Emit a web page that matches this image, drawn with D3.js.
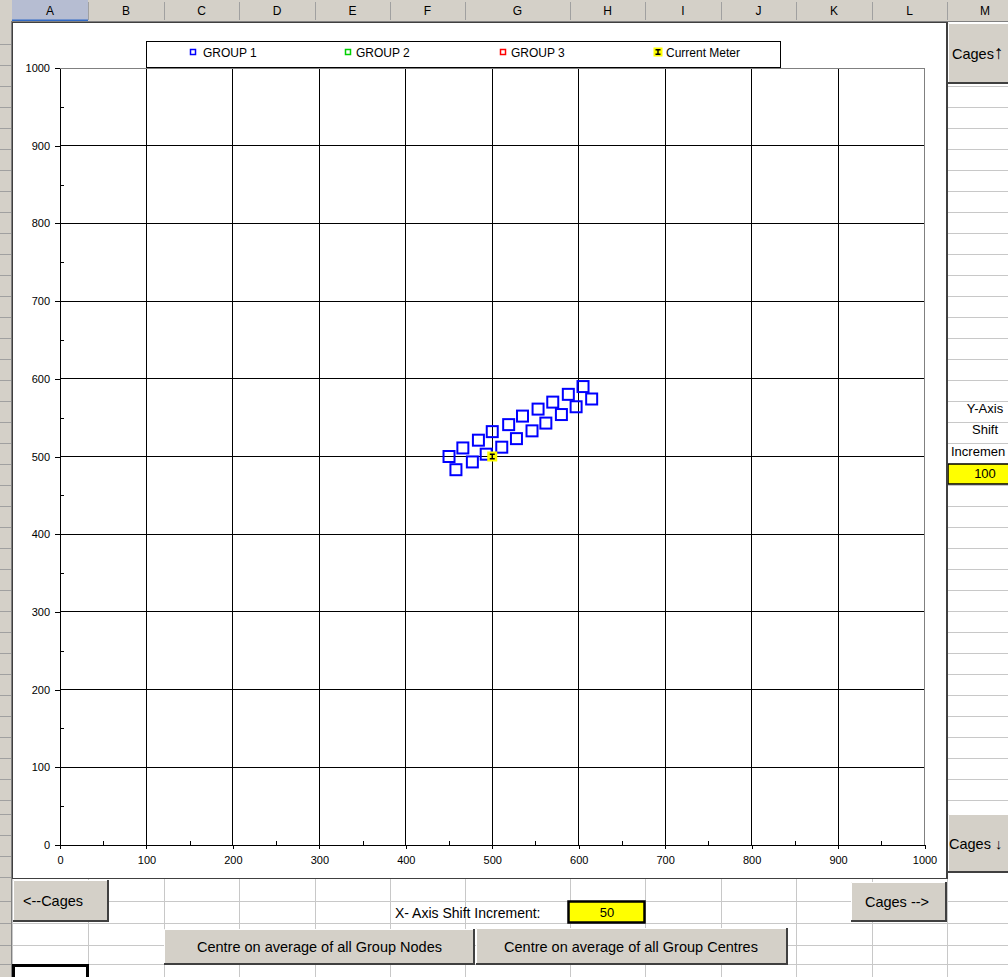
<!DOCTYPE html>
<html lang="en">
<head>
<meta charset="UTF-8">
<title>Cages</title>
<script src="https://d3js.org/d3.v7.min.js"></script>
<style>
    body { margin: 0; background: #fff; }
    svg { display: block; font-family: "Liberation Sans", Arial, sans-serif; }
    .cell { stroke: #c8c8c8; stroke-width: 1px; shape-rendering: crispEdges; }
    .grid line { stroke: #000; stroke-width: 1px; shape-rendering: crispEdges; }
    .axis path, .axis line { stroke: #000; shape-rendering: crispEdges; }
    .axis text { font-size: 11px; fill: #000; }
    .btn text { font-size: 14.5px; fill: #000; }
</style>
</head>
<body>
<svg width="1008" height="977"></svg>
<script>
    // values
    var group1X = [450, 458, 466, 477, 484, 493, 500, 511, 519, 528, 535, 546, 553, 562, 570, 580, 588, 597, 605, 615];
    var group1Y = [500, 483, 511, 493, 521, 503, 532, 512, 541, 523, 552, 533, 561, 543, 570, 554, 580, 564, 590, 574];
    var group2X = [], group2Y = [];
    var group3X = [], group3Y = [];
    var meterX = [500], meterY = [500];
    var majorTicks = d3.range(0, 1001, 100);
    var minorTicks = d3.range(50, 1000, 100);
    var legendNames = ["GROUP 1", "GROUP 2", "GROUP 3", "Current Meter"];
    var legendColors = ["#0000ff", "#00d000", "#ff0000", "#ffff00"];
    var xShift = "50", yShift = "100";

    // spreadsheet furniture
    var columnLetters = ["A", "B", "C", "D", "E", "F", "G", "H", "I", "J", "K", "L", "M"];
    var columnEdges = [12, 88, 164, 239, 315, 390, 465, 570, 645, 721, 796, 872, 947, 1023];
    var upperRows = d3.range(86, 814, 21);
    var lowerRows = [901, 923, 945, 964];

    var svg = d3.select("svg");

    // sheet cells
    var sheet = svg.append("g");
    upperRows.forEach(function (r) {
        sheet.append("line").attr("class", "cell").attr("x1", 947).attr("x2", 1008).attr("y1", r).attr("y2", r);
    });
    lowerRows.forEach(function (r) {
        sheet.append("line").attr("class", "cell").attr("x1", 12).attr("x2", 1008).attr("y1", r).attr("y2", r);
    });
    columnEdges.forEach(function (c) {
        sheet.append("line").attr("class", "cell").attr("x1", c).attr("x2", c).attr("y1", 879).attr("y2", 977);
    });

    // column header
    var head = svg.append("g");
    head.append("rect").attr("x", 0).attr("y", 0).attr("width", 1008).attr("height", 21).attr("fill", "#d4d0c8");
    head.append("rect").attr("x", 12).attr("y", 0).attr("width", 76).attr("height", 21).attr("fill", "#b6bdd2");
    head.append("line").attr("x1", 12).attr("x2", 88).attr("y1", 20.5).attr("y2", 20.5).attr("stroke", "#316ac5").attr("stroke-width", 2);
    head.append("line").attr("x1", 0).attr("x2", 1008).attr("y1", 21.5).attr("y2", 21.5).attr("stroke", "#808080");
    columnLetters.forEach(function (l, i) {
        head.append("line").attr("x1", columnEdges[i + 1] + 0.5).attr("x2", columnEdges[i + 1] + 0.5)
            .attr("y1", 2).attr("y2", 20).attr("stroke", "#a0a0a0");
        head.append("text").attr("x", (columnEdges[i] + columnEdges[i + 1]) / 2).attr("y", 15)
            .attr("text-anchor", "middle").attr("font-size", 12).text(l);
    });

    // row header strip
    svg.append("rect").attr("x", 0).attr("y", 21).attr("width", 11).attr("height", 956).attr("fill", "#d4d0c8");
    svg.append("line").attr("x1", 11.5).attr("x2", 11.5).attr("y1", 21).attr("y2", 977).attr("stroke", "#808080");
    upperRows.concat(lowerRows, d3.range(44, 86, 21), d3.range(814, 880, 21)).forEach(function (r) {
        svg.append("line").attr("x1", 0).attr("x2", 11).attr("y1", r + 0.5).attr("y2", r + 0.5).attr("stroke", "#a0a0a0");
    });

    // chart area
    svg.append("rect").attr("x", 12.5).attr("y", 22.5).attr("width", 934).attr("height", 856)
        .attr("fill", "#fff").attr("stroke", "#404040");

    var x = d3.scaleLinear().domain([0, 1000]).range([60, 924.5]);
    var y = d3.scaleLinear().domain([0, 1000]).range([845, 68]);

    var grid = svg.append("g").attr("class", "grid");
    majorTicks.slice(1, -1).forEach(function (v) {
        grid.append("line").attr("x1", x(v)).attr("x2", x(v)).attr("y1", y(0)).attr("y2", y(1000));
        grid.append("line").attr("x1", x(0)).attr("x2", x(1000)).attr("y1", y(v)).attr("y2", y(v));
    });
    svg.append("rect").attr("x", x(0)).attr("y", y(1000)).attr("width", x(1000) - x(0)).attr("height", y(0) - y(1000))
        .attr("fill", "none").attr("stroke", "#808080").attr("shape-rendering", "crispEdges");

    var fmt = d3.format("d");
    svg.append("g").attr("class", "axis").attr("transform", "translate(0," + y(0) + ")")
        .call(d3.axisBottom(x).tickValues(majorTicks).tickFormat(fmt).tickSize(4).tickSizeOuter(0).tickPadding(7));
    svg.append("g").attr("class", "axis").attr("transform", "translate(0," + y(0) + ")")
        .call(d3.axisBottom(x).tickValues(minorTicks).tickSize(-4).tickFormat("")).select(".domain").remove();
    svg.append("g").attr("class", "axis").attr("transform", "translate(" + x(0) + ",0)")
        .call(d3.axisLeft(y).tickValues(majorTicks).tickFormat(fmt).tickSize(5).tickSizeOuter(0).tickPadding(5));
    svg.append("g").attr("class", "axis").attr("transform", "translate(" + x(0) + ",0)")
        .call(d3.axisLeft(y).tickValues(minorTicks).tickSize(-4).tickFormat("")).select(".domain").remove();

    // series
    var series = [[group1X, group1Y], [group2X, group2Y], [group3X, group3Y]];
    series.forEach(function (s, k) {
        svg.append("g").selectAll("rect")
            .data(d3.zip(s[0], s[1]))
            .enter()
            .append("rect")
            .attr("x", function (d) { return x(d[0]) - 5.5; })
            .attr("y", function (d) { return y(d[1]) - 5.5; })
            .attr("width", 11)
            .attr("height", 11)
            .attr("fill", "none")
            .attr("stroke", legendColors[k])
            .attr("stroke-width", 2);
    });

    function meterMark(g, size) {
        g.append("rect").attr("x", -size / 2).attr("y", -size / 2).attr("width", size).attr("height", size).attr("fill", "#ffff00");
        g.append("path").attr("d", "M-2.5,-2.2h5M-2.5,2.2h5M0,-2.2v4.4").attr("stroke", "#000").attr("stroke-width", 1.4).attr("fill", "none");
    }
    svg.append("g").selectAll("g")
        .data(d3.zip(meterX, meterY))
        .enter()
        .append("g")
        .attr("transform", function (d) { return "translate(" + x(d[0]) + "," + y(d[1]) + ")"; })
        .each(function () { meterMark(d3.select(this), 10); });

    // legend
    var legend = svg.append("g");
    legend.append("rect").attr("x", 146.5).attr("y", 41.5).attr("width", 634).attr("height", 26)
        .attr("fill", "#fff").attr("stroke", "#000");
    var lx = d3.scalePoint().domain(legendNames).range([193, 658]);
    legendNames.forEach(function (n, i) {
        var g = legend.append("g").attr("transform", "translate(" + lx(n) + ",52)");
        if (i < 3) {
            g.append("rect").attr("x", -2.5).attr("y", -2.5).attr("width", 5).attr("height", 5)
                .attr("fill", "#fff").attr("stroke", legendColors[i]).attr("stroke-width", 1.5);
        } else {
            meterMark(g, 9);
        }
        g.append("text").attr("x", i === 0 ? 10 : 8).attr("y", 4.5).attr("font-size", 12).text(n);
    });

    // buttons
    function button(bx, by, bw, bh, label, tx, anchor, size) {
        var g = svg.append("g").attr("class", "btn");
        g.append("rect").attr("x", bx).attr("y", by).attr("width", bw).attr("height", bh).attr("fill", "#d4d0c8");
        g.append("path").attr("d", "M" + bx + "," + (by + bh - 1) + "H" + (bx + bw - 1) + "V" + by)
            .attr("stroke", "#404040").attr("stroke-width", 2).attr("fill", "none");
        g.append("path").attr("d", "M" + (bx + 0.5) + "," + (by + bh - 2) + "V" + (by + 0.5) + "H" + (bx + bw - 2))
            .attr("stroke", "#fff").attr("fill", "none");
        g.append("text").attr("x", tx).attr("y", by + bh / 2 + 5).attr("text-anchor", anchor)
            .attr("font-size", size || 14.5).text(label);
        return g;
    }
    var up = button(948, 23, 62, 61, "Cages", 952, "start", 16.5);
    up.select("text").append("tspan").attr("font-weight", "bold").attr("font-size", 19).text("↑");
    var down = button(948, 814, 62, 59, "Cages ", 949, "start", 16.5);
    down.select("text").append("tspan").attr("font-weight", "bold").text("↓");
    button(13, 880, 96, 42, "<--Cages", 23, "start", 16.5);
    button(851, 882, 96, 40, "Cages -->", 897, "middle", 16.5);
    button(164, 929, 311, 36, "Centre on average of all Group Nodes", 319.5, "middle");
    button(476, 928, 312, 37, "Centre on average of all Group Centres", 631, "middle");

    // shift cells
    svg.append("text").attr("x", 395).attr("y", 918).attr("font-size", 14).text("X- Axis Shift Increment:");
    svg.append("rect").attr("x", 568.5).attr("y", 901.5).attr("width", 76).attr("height", 21)
        .attr("fill", "#ffff00").attr("stroke", "#000").attr("stroke-width", 2.5);
    svg.append("text").attr("x", 607).attr("y", 917).attr("text-anchor", "middle").attr("font-size", 13).text(xShift);

    ["Y-Axis", "Shift"].forEach(function (t, i) {
        svg.append("text").attr("x", 985).attr("y", 413 + i * 21).attr("text-anchor", "middle").attr("font-size", 13).text(t);
    });
    svg.append("text").attr("x", 951).attr("y", 456).attr("font-size", 13).text("Incremen");
    svg.append("rect").attr("x", 948).attr("y", 464).attr("width", 62).attr("height", 20)
        .attr("fill", "#ffff00").attr("stroke", "#000").attr("stroke-width", 1.5);
    svg.append("text").attr("x", 985).attr("y", 478).attr("text-anchor", "middle").attr("font-size", 13).text(yShift);

    // chart area right edge, active cell
    svg.append("line").attr("x1", 947).attr("x2", 947).attr("y1", 22).attr("y2", 879).attr("stroke", "#404040").attr("stroke-width", 2);
    svg.append("rect").attr("x", 13.5).attr("y", 965.5).attr("width", 74).attr("height", 20)
        .attr("fill", "#fff").attr("stroke", "#000").attr("stroke-width", 3);
</script>
</body>
</html>
